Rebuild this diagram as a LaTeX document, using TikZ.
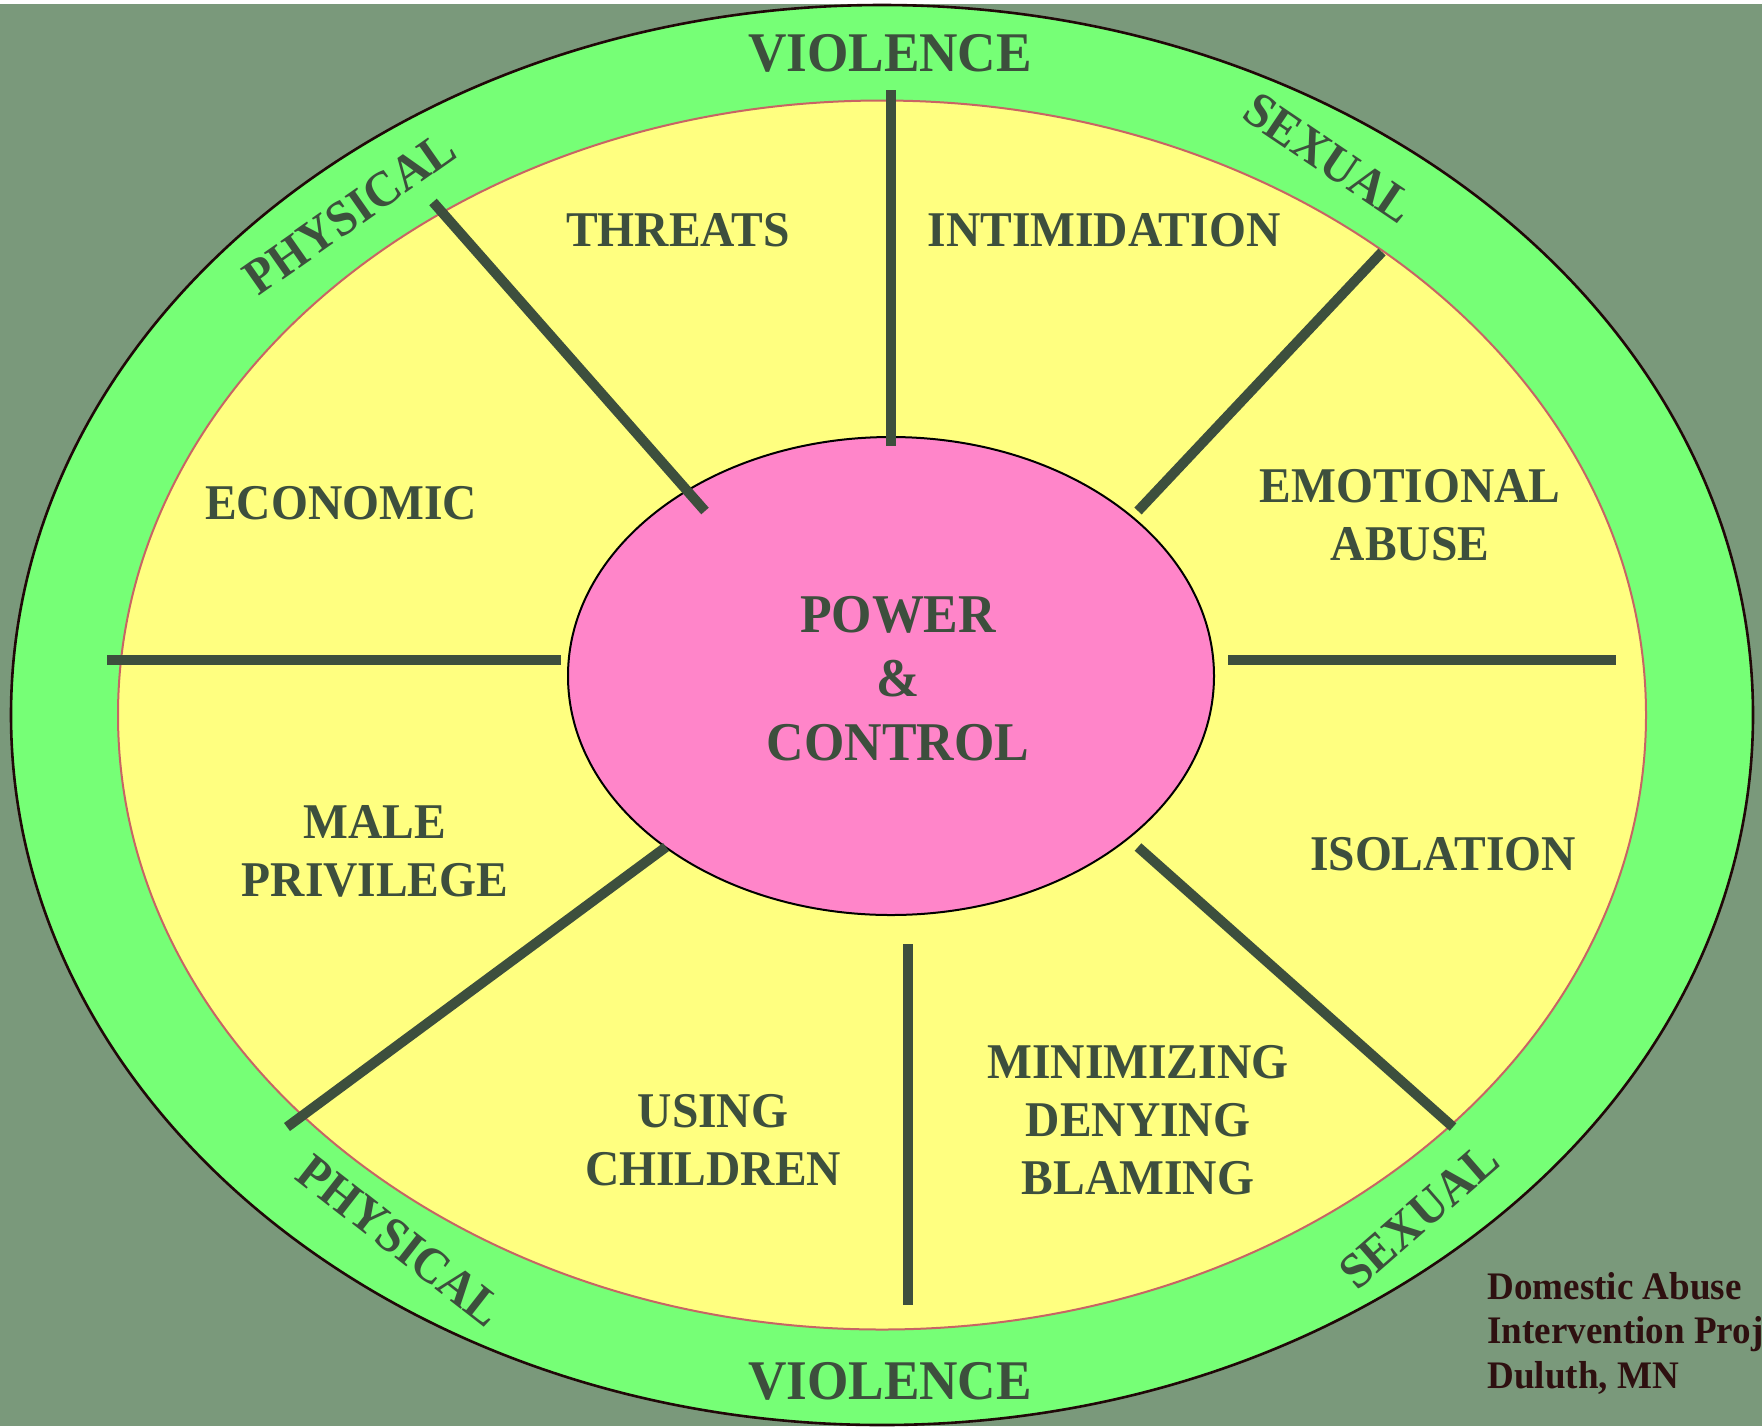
\documentclass[tikz,border=0pt]{standalone}
\usepackage{fontspec}
\setmainfont{Liberation Serif}[FakeStretch=0.95]
\usetikzlibrary{shapes.geometric}
\definecolor{wGray}{HTML}{7A997B}
\definecolor{wGreen}{HTML}{76FF76}
\definecolor{wYellow}{HTML}{FFFF80}
\definecolor{wPink}{HTML}{FF85C9}
\definecolor{wInk}{HTML}{3D4F3D}
\definecolor{wRim}{HTML}{200808}
\definecolor{wEdge}{HTML}{C86464}
\definecolor{wNote}{HTML}{2E1010}

\begin{document}
\begin{tikzpicture}[x=0.5pt, y=-0.5pt,
    sector/.style={text=wInk, font=\fontsize{25}{29}\selectfont\bfseries, align=center, inner sep=0pt},
    band/.style={text=wInk, font=\fontsize{25}{29}\selectfont\bfseries, inner sep=0pt},
    spoke/.style={draw=wInk, line width=5pt}]
  \useasboundingbox (0,0) rectangle (1762,1426);
  \fill[white] (0,0) rectangle (1762,1426);
  \fill[wGray] (0,4) rectangle (1762,1426);

  % rim and wheel
  \filldraw[fill=wGreen, draw=wRim, line width=1.3pt] (882,715) ellipse [x radius=871, y radius=710];
  \filldraw[fill=wYellow, draw=wEdge, line width=1pt] (882,715) ellipse [x radius=764, y radius=614.5];

  \node[ellipse, fill=wPink, draw=black, line width=1pt, minimum width=323pt, minimum height=239pt, inner sep=0pt] (hub) at (891,676) {};

  \draw[spoke] (891,90) -- (891,446);
  \draw[spoke] (433,202) -- (705,511);
  \draw[spoke] (1382,252) -- (1138,511);
  \draw[spoke] (107,660) -- (561,660);
  \draw[spoke] (1228,660) -- (1616,660);
  \draw[spoke] (287,1127) -- (666,847);
  \draw[spoke] (908,944) -- (908,1305);
  \draw[spoke] (1453,1127) -- (1138,847);

  \node[text=wInk, font=\fontsize{27.3}{32}\selectfont\bfseries, align=center, inner sep=0pt] (power) at (898,678.5) {POWER\\\&\\CONTROL};

  \node[band, font=\fontsize{28}{32}\selectfont\bfseries] (violence-top) at (890,53.5) {VIOLENCE};
  \node[band, font=\fontsize{28}{32}\selectfont\bfseries] (violence-bot) at (890,1381.5) {VIOLENCE};
  \node[band, rotate=35] (physical-top) at (350,213) {PHYSICAL};
  \node[band, rotate=-34] (sexual-top) at (1329,158) {SEXUAL};
  \node[band, rotate=-38] (physical-bot) at (400,1241) {PHYSICAL};
  \node[band, rotate=41] (sexual-bot) at (1419,1216) {SEXUAL};

  \node[sector] (threats) at (678,230) {THREATS};
  \node[sector] (intimidation) at (1104,230) {INTIMIDATION};
  \node[sector] (emotional) at (1410,515.5) {EMOTIONAL\\ABUSE};
  \node[sector] (isolation) at (1443,854.5) {ISOLATION};
  \node[sector] (minimizing) at (1138,1120) {MINIMIZING\\DENYING\\BLAMING};
  \node[sector] (children) at (713,1140) {USING\\CHILDREN};
  \node[sector] (privilege) at (375,851.5) {MALE\\PRIVILEGE};
  \node[sector] (economic) at (341,503) {ECONOMIC};

  \node[text=wNote, font=\fontsize{19.5}{22.25}\selectfont\bfseries, align=left, inner sep=0pt, anchor=north west] (project) at (1487,1272) {Domestic Abuse\\Intervention Proj\\Duluth, MN};
\end{tikzpicture}
\end{document}
